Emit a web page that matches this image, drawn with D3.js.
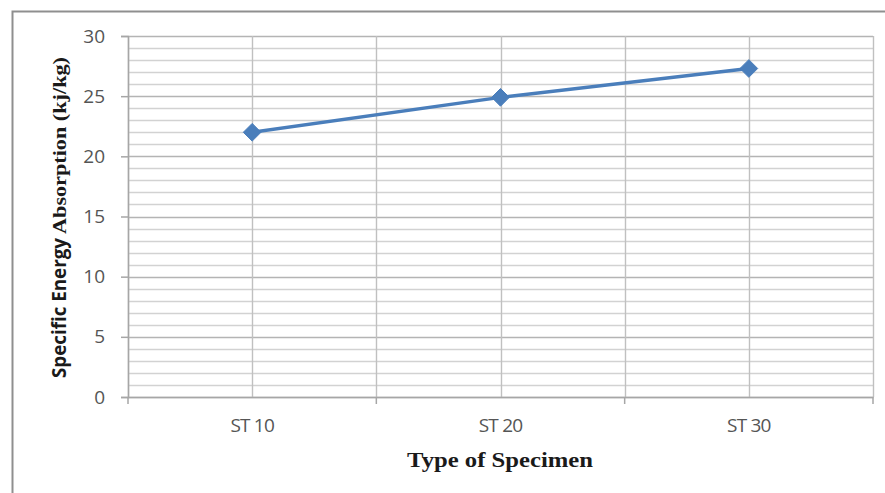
<!DOCTYPE html>
<html>
<head>
<meta charset="utf-8">
<script src="https://cdn.jsdelivr.net/npm/d3@7"></script>
<style>
  html, body { margin: 0; padding: 0; background: #fff; }
  svg { display: block; }
</style>
</head>
<body>
<svg id="chart" width="885" height="493"></svg>
<script>
// Specimen types and their specific energy absorption (kJ/kg)
const specimens = ["ST 10", "ST 20", "ST 30"];
const energyAbsorption = [22.0, 24.9, 27.3];
const yTicks = [0, 5, 10, 15, 20, 25, 30];
const yMinorStep = 1;

const svg = d3.select("#chart");
const W = 885, H = 493;
const plot = { left: 128, top: 36, right: 873, bottom: 397 };
const labelFont = "'Open Sans', 'Liberation Sans', sans-serif";
const titleFont = "'Liberation Serif', 'Times New Roman', serif";

// Outer chart frame
svg.append("rect")
  .attr("x", 12.5).attr("y", 11.5)
  .attr("width", W + 10).attr("height", H + 10)
  .attr("fill", "#fff")
  .attr("stroke", "#8f8f8f").attr("stroke-width", 2);

const x = d3.scaleBand().domain(specimens).range([plot.left, plot.right]).padding(0);
const y = d3.scaleLinear().domain([0, 30]).range([plot.bottom, plot.top]);

// Horizontal gridlines (minor every 1, major every 5)
const minor = d3.range(0, 30 + yMinorStep, yMinorStep);
svg.append("g").selectAll("line").data(minor).join("line")
  .attr("x1", plot.left).attr("x2", plot.right)
  .attr("y1", d => Math.round(y(d)) + 0.5).attr("y2", d => Math.round(y(d)) + 0.5)
  .attr("stroke", d => d % 5 === 0 ? "#b4b4b4" : "#d2d2d2")
  .attr("stroke-width", d => d % 5 === 0 ? 1.7 : 1.4);

// Vertical gridlines at category centres and boundaries
const vLines = [];
specimens.forEach(s => { vLines.push(x(s)); vLines.push(x(s) + x.bandwidth() / 2); });
vLines.push(plot.right);
svg.append("g").selectAll("line").data(vLines).join("line")
  .attr("x1", d => Math.round(d) + 0.5).attr("x2", d => Math.round(d) + 0.5)
  .attr("y1", plot.top).attr("y2", plot.bottom)
  .attr("stroke", "#c0c0c0").attr("stroke-width", 1.4);

// Y axis
const yAxis = svg.append("g")
  .attr("transform", `translate(${plot.left},0)`)
  .call(d3.axisLeft(y).tickValues(yTicks).tickSize(7).tickPadding(16));
yAxis.select(".domain").attr("stroke", "#a6a6a6").attr("stroke-width", 1.5);
yAxis.selectAll(".tick line").attr("stroke", "#a6a6a6").attr("stroke-width", 1.5);
yAxis.selectAll("text")
  .attr("font-family", labelFont)
  .attr("font-size", 19).attr("fill", "#555");

// X axis with ticks on category boundaries
const xAxis = svg.append("g")
  .attr("transform", `translate(0,${plot.bottom})`)
  .call(d3.axisBottom(x).tickSize(0).tickPadding(22));
xAxis.select(".domain").attr("stroke", "#a6a6a6").attr("stroke-width", 1.5);
xAxis.selectAll("text")
  .attr("font-family", labelFont)
  .attr("font-size", 19).attr("fill", "#555")
  .attr("letter-spacing", "-0.8px");
const bounds = specimens.map(s => x(s)).concat([plot.right]);
xAxis.append("g").selectAll("line").data(bounds).join("line")
  .attr("x1", d => d).attr("x2", d => d)
  .attr("y1", 0).attr("y2", 7)
  .attr("stroke", "#a6a6a6").attr("stroke-width", 1.5);

// Series line
const pts = specimens.map((s, i) => [x(s) + x.bandwidth() / 2, y(energyAbsorption[i])]);
svg.append("path")
  .attr("d", d3.line()(pts))
  .attr("fill", "none")
  .attr("stroke", "#4a7ebb").attr("stroke-width", 3.4);

// Diamond markers
svg.append("g").selectAll("path").data(pts).join("path")
  .attr("transform", d => `translate(${d[0]},${d[1]})`)
  .attr("d", d3.symbol().type(d3.symbolDiamond2).size(200))
  .attr("fill", "#4a7ebb").attr("stroke", "#4a7ebb").attr("stroke-width", 1);

// Axis titles
svg.append("text")
  .attr("x", 500).attr("y", 467)
  .attr("text-anchor", "middle")
  .attr("font-family", titleFont)
  .attr("font-weight", "bold").attr("font-size", 20).attr("fill", "#1a1a1a")
  .attr("textLength", 186).attr("lengthAdjust", "spacingAndGlyphs")
  .text("Type of Specimen");

const yTitle = svg.append("text")
  .attr("transform", "translate(66,378) rotate(-90)")
  .attr("text-anchor", "start")
  .attr("font-weight", "bold").attr("font-size", 19).attr("fill", "#1a1a1a");
yTitle.append("tspan")
  .attr("font-family", labelFont)
  .attr("textLength", 140).attr("lengthAdjust", "spacingAndGlyphs")
  .text("Specific Energy");
yTitle.append("tspan")
  .attr("dx", 4)
  .attr("font-family", titleFont)
  .attr("textLength", 177).attr("lengthAdjust", "spacingAndGlyphs")
  .text("Absorption (kj/kg)");
</script>
</body>
</html>
